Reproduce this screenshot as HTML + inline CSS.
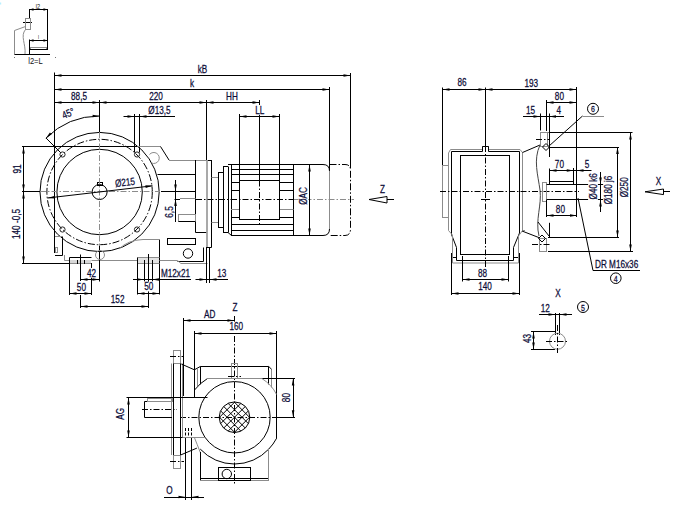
<!DOCTYPE html>
<html><head><meta charset="utf-8">
<style>
html,body{margin:0;padding:0;background:#fff;}
body{width:683px;height:513px;overflow:hidden;}
svg{display:block;}
.k{stroke:#000;stroke-width:1;fill:none;}
.g{stroke:#8c8c8c;stroke-width:1;fill:none;}
.cd{stroke:#000;stroke-width:1;fill:none;stroke-dasharray:7 2 1.5 2;}
.cg{stroke:#8c8c8c;stroke-width:1;fill:none;stroke-dasharray:6 2 1.5 2;}
.cb{stroke:#000;stroke-width:1;fill:none;stroke-dasharray:6 2 1.5 2;}
.k2{stroke:#222;stroke-width:1;fill:none;}
.tk{font-family:"Liberation Sans",sans-serif;fill:#111;}
.dsh{stroke:#000;stroke-width:1;fill:none;stroke-dasharray:3 1.5;}
.dg{stroke:#444;stroke-width:1;fill:none;}
.ah{fill:#000;stroke:none;}
.dot{fill:#444;stroke:none;}
.t{font-family:"Liberation Sans",sans-serif;fill:#0c0c38;stroke:#0c0c38;stroke-width:0.25;}
</style></head><body>
<svg width="683" height="513" viewBox="0 0 683 513">
<rect x="0" y="2.5" width="1.2" height="2" fill="#b8f0ff"/>
<line x1="29.5" y1="9" x2="29.5" y2="19" class="k"/>
<line x1="29.5" y1="9.5" x2="47.5" y2="9.5" class="k"/>
<path d="M29.50,9.50 L33.50,8.30 L33.50,10.70 Z" class="ah"/>
<path d="M47.50,9.50 L43.50,10.70 L43.50,8.30 Z" class="ah"/>
<line x1="47.5" y1="9" x2="47.5" y2="50" class="k"/>
<text transform="translate(38,9.2) scale(0.75,1)" text-anchor="middle" font-size="7.5" class="tk">l2</text>
<line x1="23" y1="22.5" x2="32" y2="22.5" class="k"/>
<rect x="25.5" y="18.5" width="5.0" height="11.0" class="g"/>
<line x1="14.5" y1="30.5" x2="25.5" y2="26.5" class="g"/>
<line x1="14.5" y1="30.5" x2="14.5" y2="54.5" class="g"/>
<line x1="14.5" y1="54.5" x2="50" y2="54.5" class="k"/>
<text transform="translate(38.5,38.8) scale(0.8,1)" text-anchor="middle" font-size="5.5" class="tk">l</text>
<line x1="29.5" y1="40.5" x2="47.5" y2="40.5" class="k"/>
<path d="M29.50,40.50 L33.50,39.30 L33.50,41.70 Z" class="ah"/>
<path d="M47.50,40.50 L43.50,41.70 L43.50,39.30 Z" class="ah"/>
<line x1="29.5" y1="39.5" x2="29.5" y2="54.5" class="k"/>
<rect x="30.5" y="47.5" width="16.0" height="2.0" class="g"/>
<line x1="29.5" y1="49.5" x2="47.5" y2="49.5" class="k"/>
<path d="M25.5,29.5 C20,36 26,44 25,54" class="g"/>
<text transform="translate(35.5,63.5) scale(0.8,1)" text-anchor="middle" font-size="9.5" class="tk">l2=L</text>
<circle cx="14.5" cy="57.5" r="0.5" class="dot"/>
<circle cx="55.5" cy="57.5" r="0.5" class="dot"/>
<line x1="54.5" y1="72.5" x2="54.5" y2="253" class="k"/>
<line x1="54.5" y1="75.5" x2="350.5" y2="75.5" class="k"/>
<path d="M54.50,75.50 L61.50,74.20 L61.50,76.80 Z" class="ah"/>
<path d="M350.50,75.50 L343.50,76.80 L343.50,74.20 Z" class="ah"/>
<rect x="196.92" y="63.73" width="11.16" height="9.77" fill="#fff"/>
<text transform="translate(202.5,72.5) scale(0.78,1)" text-anchor="middle" font-size="10.5" class="t">kB</text>
<line x1="350.5" y1="73" x2="350.5" y2="168" class="k"/>
<line x1="54.5" y1="89.5" x2="329.5" y2="89.5" class="k"/>
<path d="M54.50,89.50 L61.50,88.20 L61.50,90.80 Z" class="ah"/>
<path d="M329.50,89.50 L322.50,90.80 L322.50,88.20 Z" class="ah"/>
<rect x="189.15" y="78.03" width="5.70" height="9.77" fill="#fff"/>
<text transform="translate(192,86.8) scale(0.78,1)" text-anchor="middle" font-size="10.5" class="t">k</text>
<line x1="329.5" y1="87" x2="329.5" y2="170" class="k"/>
<line x1="54.5" y1="102.5" x2="99.5" y2="102.5" class="k"/>
<path d="M54.50,102.50 L61.50,101.20 L61.50,103.80 Z" class="ah"/>
<path d="M99.50,102.50 L92.50,103.80 L92.50,101.20 Z" class="ah"/>
<rect x="70.23" y="90.73" width="17.54" height="9.77" fill="#fff"/>
<text transform="translate(79,99.5) scale(0.78,1)" text-anchor="middle" font-size="10.5" class="t">88,5</text>
<line x1="99.5" y1="102.5" x2="206.5" y2="102.5" class="k"/>
<path d="M99.50,102.50 L106.50,101.20 L106.50,103.80 Z" class="ah"/>
<path d="M206.50,102.50 L199.50,103.80 L199.50,101.20 Z" class="ah"/>
<rect x="148.37" y="90.73" width="15.26" height="9.77" fill="#fff"/>
<text transform="translate(156,99.5) scale(0.78,1)" text-anchor="middle" font-size="10.5" class="t">220</text>
<line x1="206.5" y1="102.5" x2="259.5" y2="102.5" class="k"/>
<path d="M206.50,102.50 L213.50,101.20 L213.50,103.80 Z" class="ah"/>
<path d="M259.50,102.50 L252.50,103.80 L252.50,101.20 Z" class="ah"/>
<rect x="225.29" y="90.73" width="13.43" height="9.77" fill="#fff"/>
<text transform="translate(232,99.5) scale(0.78,1)" text-anchor="middle" font-size="10.5" class="t">HH</text>
<line x1="99.5" y1="100" x2="99.5" y2="132" class="k"/>
<line x1="206.5" y1="100" x2="206.5" y2="160" class="k"/>
<line x1="259.5" y1="100" x2="259.5" y2="180.5" class="k"/>
<line x1="239.5" y1="116.5" x2="279.5" y2="116.5" class="k"/>
<path d="M239.50,116.50 L246.50,115.20 L246.50,117.80 Z" class="ah"/>
<path d="M279.50,116.50 L272.50,117.80 L272.50,115.20 Z" class="ah"/>
<rect x="254.35" y="105.03" width="10.71" height="9.77" fill="#fff"/>
<text transform="translate(259.7,113.8) scale(0.78,1)" text-anchor="middle" font-size="10.5" class="t">LL</text>
<line x1="239.5" y1="114" x2="239.5" y2="219.5" class="k"/>
<line x1="279.5" y1="114" x2="279.5" y2="219.5" class="k"/>
<line x1="123.5" y1="116.5" x2="175" y2="116.5" class="k"/>
<path d="M134.50,116.50 L127.50,117.80 L127.50,115.20 Z" class="ah"/>
<path d="M139.50,116.50 L146.50,115.20 L146.50,117.80 Z" class="ah"/>
<rect x="147.55" y="105.53" width="23.91" height="9.77" fill="#fff"/>
<text transform="translate(159.5,114.3) scale(0.78,1)" text-anchor="middle" font-size="10.5" class="t">&#216;13,5</text>
<line x1="134.5" y1="114" x2="134.5" y2="152.5" class="k"/>
<line x1="139.5" y1="114" x2="139.5" y2="152.5" class="k"/>
<path d="M99.6,116 A76,76 0 0 0 45.86,138.26" class="k"/>
<path d="M99.60,116.00 L92.60,117.30 L92.60,114.70 Z" class="ah"/>
<path d="M45.86,138.26 L49.89,132.39 L51.73,134.23 Z" class="ah"/>
<rect transform="translate(68.1,113.1) rotate(-22)" x="-6.99" y="-4.88" width="13.98" height="9.77" fill="#fff"/>
<text transform="translate(68.1,113.1) rotate(-22) scale(0.78,1)" text-anchor="middle" font-size="10.5" class="t" y="3.78">45&#176;</text>
<line x1="46" y1="138" x2="54.5" y2="146.5" class="k"/>
<path d="M54.5,146.5 L61,153" class="k"/>
<line x1="22" y1="146.5" x2="137.5" y2="146.5" class="k"/>
<line x1="23.5" y1="146.5" x2="23.5" y2="263.5" class="k"/>
<path d="M23.50,146.50 L24.80,153.50 L22.20,153.50 Z" class="ah"/>
<path d="M23.50,191.50 L22.20,184.50 L24.80,184.50 Z" class="ah"/>
<path d="M23.50,191.50 L24.80,198.50 L22.20,198.50 Z" class="ah"/>
<path d="M23.50,263.50 L22.20,256.50 L24.80,256.50 Z" class="ah"/>
<line x1="22" y1="191.5" x2="40" y2="191.5" class="k"/>
<rect transform="translate(17,169) rotate(-90)" x="-5.35" y="-4.88" width="10.71" height="9.77" fill="#fff"/>
<text transform="translate(17,169) rotate(-90) scale(0.78,1)" text-anchor="middle" font-size="10.5" class="t" y="3.78">91</text>
<rect transform="translate(16.5,224) rotate(-90)" x="-15.82" y="-4.88" width="31.65" height="9.77" fill="#fff"/>
<text transform="translate(16.5,224) rotate(-90) scale(0.78,1)" text-anchor="middle" font-size="10.5" class="t" y="3.78">140 -0,5</text>
<line x1="22" y1="263.5" x2="69.5" y2="263.5" class="k"/>
<circle cx="99.6" cy="192" r="59.6" class="k"/>
<circle cx="99.6" cy="192" r="52.7" class="cd"/>
<circle cx="99.6" cy="192" r="42.7" class="k"/>
<circle cx="99.6" cy="192" r="7.5" class="k"/>
<rect x="97.5" y="182.5" width="5.0" height="3.0" class="k"/>
<line x1="40" y1="191.5" x2="160" y2="191.5" class="cg"/>
<line x1="99.5" y1="132" x2="99.5" y2="255" class="cg"/>
<circle cx="62.5" cy="154.5" r="2.6" class="k2"/>
<circle cx="62.5" cy="229.5" r="2.6" class="k2"/>
<circle cx="137" cy="154.5" r="2.6" class="k2"/>
<circle cx="137" cy="229.5" r="2.6" class="k2"/>
<line x1="47.5" y1="198" x2="152.5" y2="185.8" class="k"/>
<path d="M47.50,198.00 L54.30,195.90 L54.60,198.48 Z" class="ah"/>
<path d="M152.50,185.80 L145.70,187.90 L145.40,185.32 Z" class="ah"/>
<rect transform="translate(125,182) rotate(-6.6)" x="-10.82" y="-4.88" width="21.63" height="9.77" fill="#fff"/>
<text transform="translate(125,182) rotate(-6.6) scale(0.78,1)" text-anchor="middle" font-size="10.5" class="t" y="3.78">&#216;215</text>
<line x1="137.5" y1="146.5" x2="160.5" y2="146.5" class="g"/>
<line x1="160.5" y1="146.5" x2="169" y2="160" class="k"/>
<line x1="169" y1="160.5" x2="206.5" y2="160.5" class="g"/>
<line x1="206.5" y1="160.5" x2="211.5" y2="160.5" class="k"/>
<path d="M149.5,154.5 A5.5,5.5 0 1 1 151.5,163" class="g"/>
<line x1="157.5" y1="174.5" x2="195.5" y2="174.5" class="k"/>
<line x1="195.5" y1="160" x2="195.5" y2="232.5" class="k"/>
<line x1="195.5" y1="232.5" x2="207" y2="232.5" class="k"/>
<line x1="207" y1="160" x2="207" y2="247.5" class="g" style="stroke-width:1.8;stroke:#a0a0a0"/>
<line x1="211.5" y1="160" x2="211.5" y2="247.5" class="k"/>
<line x1="207" y1="247.5" x2="211.5" y2="247.5" class="k"/>
<line x1="161" y1="191.5" x2="195.5" y2="191.5" class="k"/>
<line x1="180" y1="198.5" x2="195.5" y2="198.5" class="g"/>
<line x1="174.5" y1="199.5" x2="180" y2="199.5" class="k"/>
<rect x="178.5" y="214.5" width="17.0" height="7.0" class="g"/>
<line x1="178.5" y1="221.5" x2="195.5" y2="221.5" class="k"/>
<line x1="175.5" y1="180" x2="175.5" y2="222" class="k"/>
<path d="M175.50,191.50 L174.20,184.50 L176.80,184.50 Z" class="ah"/>
<path d="M175.50,199.00 L176.80,206.00 L174.20,206.00 Z" class="ah"/>
<rect transform="translate(169.4,212) rotate(-90)" x="-6.49" y="-4.88" width="12.98" height="9.77" fill="#fff"/>
<text transform="translate(169.4,212) rotate(-90) scale(0.78,1)" text-anchor="middle" font-size="10.5" class="t" y="3.78">6,5</text>
<rect x="167.5" y="238.5" width="28.0" height="6.0" class="k"/>
<circle cx="188" cy="253.5" r="4.7" class="k"/>
<line x1="159.5" y1="239.5" x2="159.5" y2="294.5" class="k"/>
<line x1="143" y1="239.5" x2="159.5" y2="239.5" class="g"/>
<path d="M119,249 Q128,240 143,239.5" class="g"/>
<line x1="203.5" y1="247.5" x2="203.5" y2="261.5" class="k"/>
<line x1="177.5" y1="261.5" x2="203.5" y2="261.5" class="k"/>
<line x1="209.5" y1="249" x2="209.5" y2="264" class="k"/>
<line x1="64.5" y1="260.5" x2="69.5" y2="260.5" class="g"/>
<line x1="91.5" y1="260.5" x2="137.5" y2="260.5" class="g"/>
<line x1="159.5" y1="260.5" x2="177.5" y2="260.5" class="g"/>
<line x1="177.5" y1="260.5" x2="180.5" y2="263" class="g"/>
<line x1="180.5" y1="263.5" x2="207.5" y2="263.5" class="g"/>
<line x1="62.5" y1="236.5" x2="62.5" y2="255.5" class="k"/>
<line x1="55" y1="255.5" x2="62.5" y2="255.5" class="k"/>
<line x1="55" y1="236.5" x2="62.5" y2="236.5" class="g"/>
<rect x="55.5" y="247.5" width="2.0" height="5.0" class="g"/>
<line x1="64.5" y1="255" x2="64.5" y2="260.5" class="g"/>
<rect x="70" y="260" width="21" height="3" fill="#d8d8d8"/>
<line x1="69.5" y1="257.5" x2="91.5" y2="257.5" class="k"/>
<line x1="69.5" y1="263.5" x2="91.5" y2="263.5" class="g"/>
<line x1="69.5" y1="257.5" x2="69.5" y2="295" class="k"/>
<line x1="91.5" y1="263" x2="91.5" y2="295" class="k"/>
<line x1="80.5" y1="254.5" x2="80.5" y2="281" class="k"/>
<line x1="77.5" y1="260" x2="77.5" y2="264" class="k"/>
<line x1="84.5" y1="260" x2="84.5" y2="264" class="k"/>
<line x1="99.5" y1="245.5" x2="99.5" y2="281.5" class="k"/>
<circle cx="100" cy="255" r="4.5" class="g"/>
<line x1="80.5" y1="279.5" x2="99.5" y2="279.5" class="k"/>
<path d="M80.50,279.50 L87.50,278.20 L87.50,280.80 Z" class="ah"/>
<path d="M99.50,279.50 L92.50,280.80 L92.50,278.20 Z" class="ah"/>
<rect x="86.25" y="267.93" width="10.71" height="9.77" fill="#fff"/>
<text transform="translate(91.6,276.7) scale(0.78,1)" text-anchor="middle" font-size="10.5" class="t">42</text>
<line x1="69.5" y1="293.5" x2="91.5" y2="293.5" class="k"/>
<path d="M69.50,293.50 L76.50,292.20 L76.50,294.80 Z" class="ah"/>
<path d="M91.50,293.50 L84.50,294.80 L84.50,292.20 Z" class="ah"/>
<rect x="76.05" y="282.03" width="10.71" height="9.77" fill="#fff"/>
<text transform="translate(81.4,290.8) scale(0.78,1)" text-anchor="middle" font-size="10.5" class="t">50</text>
<line x1="80.5" y1="306.5" x2="148.5" y2="306.5" class="k"/>
<path d="M80.50,306.50 L87.50,305.20 L87.50,307.80 Z" class="ah"/>
<path d="M148.50,306.50 L141.50,307.80 L141.50,305.20 Z" class="ah"/>
<rect x="109.97" y="294.23" width="15.26" height="9.77" fill="#fff"/>
<text transform="translate(117.6,303) scale(0.78,1)" text-anchor="middle" font-size="10.5" class="t">152</text>
<line x1="80.5" y1="295" x2="80.5" y2="308" class="k"/>
<line x1="148.5" y1="294.5" x2="148.5" y2="308" class="k"/>
<rect x="138" y="258" width="21" height="5" fill="#e4e4e4"/>
<line x1="137.5" y1="257.5" x2="159.5" y2="257.5" class="g"/>
<line x1="137.5" y1="263.5" x2="159.5" y2="263.5" class="g"/>
<line x1="137.5" y1="257.5" x2="137.5" y2="294.5" class="k"/>
<line x1="144.5" y1="260" x2="144.5" y2="281.5" class="k"/>
<line x1="148.5" y1="254" x2="148.5" y2="308" class="k"/>
<line x1="152.5" y1="260" x2="152.5" y2="281.5" class="k"/>
<line x1="137.5" y1="293.5" x2="159.5" y2="293.5" class="k"/>
<path d="M137.50,293.50 L144.50,292.20 L144.50,294.80 Z" class="ah"/>
<path d="M159.50,293.50 L152.50,294.80 L152.50,292.20 Z" class="ah"/>
<rect x="143.35" y="281.63" width="10.71" height="9.77" fill="#fff"/>
<text transform="translate(148.7,290.4) scale(0.78,1)" text-anchor="middle" font-size="10.5" class="t">50</text>
<line x1="133" y1="279.5" x2="191" y2="279.5" class="k"/>
<path d="M144.00,279.50 L137.00,280.80 L137.00,278.20 Z" class="ah"/>
<path d="M152.00,279.50 L159.00,278.20 L159.00,280.80 Z" class="ah"/>
<rect x="160.13" y="268.03" width="30.73" height="9.77" fill="#fff"/>
<text transform="translate(175.5,276.8) scale(0.78,1)" text-anchor="middle" font-size="10.5" class="t">M12x21</text>
<line x1="195.5" y1="279.5" x2="228" y2="279.5" class="k"/>
<path d="M206.50,279.50 L199.50,280.80 L199.50,278.20 Z" class="ah"/>
<path d="M209.50,279.50 L216.50,278.20 L216.50,280.80 Z" class="ah"/>
<line x1="206.5" y1="247" x2="206.5" y2="283" class="k"/>
<line x1="209.5" y1="247" x2="209.5" y2="283" class="k"/>
<rect x="216.35" y="268.03" width="10.71" height="9.77" fill="#fff"/>
<text transform="translate(221.7,276.8) scale(0.78,1)" text-anchor="middle" font-size="10.5" class="t">13</text>
<line x1="211.5" y1="177.5" x2="218" y2="177.5" class="g"/>
<line x1="218" y1="172.5" x2="223" y2="172.5" class="k"/>
<line x1="223" y1="166.5" x2="228" y2="166.5" class="k"/>
<line x1="228" y1="164.5" x2="231" y2="164.5" class="k"/>
<line x1="218.5" y1="172.5" x2="218.5" y2="227.5" class="k"/>
<line x1="223.5" y1="166.5" x2="223.5" y2="232.5" class="k"/>
<line x1="228.5" y1="166.5" x2="228.5" y2="232.5" class="k"/>
<line x1="231.5" y1="164.5" x2="231.5" y2="235.5" class="k"/>
<line x1="211.5" y1="222.5" x2="218" y2="222.5" class="g"/>
<line x1="218" y1="227.5" x2="223" y2="227.5" class="k"/>
<line x1="223" y1="232.5" x2="228" y2="232.5" class="k"/>
<line x1="228" y1="232.5" x2="231.5" y2="235.5" class="k"/>
<path d="M231,164.5 H323 Q329.5,164.5 329.5,171" class="k"/>
<path d="M231,235.5 H323 Q329.5,235.5 329.5,229" class="k"/>
<line x1="329.5" y1="171" x2="329.5" y2="229" class="g"/>
<line x1="293.5" y1="164.5" x2="293.5" y2="235.5" class="k"/>
<line x1="231" y1="169.5" x2="293.5" y2="169.5" class="k"/>
<line x1="231" y1="174.5" x2="293.5" y2="174.5" class="k"/>
<line x1="231" y1="224.5" x2="293.5" y2="224.5" class="k"/>
<line x1="231" y1="230.5" x2="293.5" y2="230.5" class="k"/>
<line x1="231" y1="182.5" x2="239.5" y2="182.5" class="k"/>
<line x1="279.5" y1="182.5" x2="293.5" y2="182.5" class="k"/>
<line x1="231" y1="190.5" x2="239.5" y2="190.5" class="k"/>
<line x1="279.5" y1="190.5" x2="293.5" y2="190.5" class="k"/>
<line x1="231" y1="217.5" x2="239.5" y2="217.5" class="k"/>
<line x1="279.5" y1="217.5" x2="293.5" y2="217.5" class="k"/>
<line x1="231" y1="209.5" x2="239.5" y2="209.5" class="g"/>
<line x1="279.5" y1="209.5" x2="293.5" y2="209.5" class="g"/>
<rect x="239.5" y="180.5" width="40.0" height="39.0" class="k"/>
<line x1="259.5" y1="180.5" x2="259.5" y2="224.5" class="cb"/>
<line x1="196" y1="199.5" x2="231" y2="199.5" class="cb"/>
<line x1="231" y1="199.5" x2="294" y2="199.5" class="cb"/>
<line x1="294" y1="199.5" x2="354" y2="199.5" class="cg"/>
<line x1="309.5" y1="164.5" x2="309.5" y2="235.5" class="k"/>
<path d="M309.50,164.50 L310.80,171.50 L308.20,171.50 Z" class="ah"/>
<path d="M309.50,235.50 L308.20,228.50 L310.80,228.50 Z" class="ah"/>
<rect transform="translate(303.3,196) rotate(-90)" x="-9.67" y="-4.88" width="19.35" height="9.77" fill="#fff"/>
<text transform="translate(303.3,196) rotate(-90) scale(0.78,1)" text-anchor="middle" font-size="10.5" class="t" y="3.78">&#216;AC</text>
<path d="M329.5,164.5 H345 Q350.5,164.5 350.5,170 V229 Q350.5,235.5 345,235.5 H329.5" class="cd"/>
<path d="M369,199.5 L387,196.5 L387,203 Z" class="k"/>
<line x1="387" y1="199.5" x2="394" y2="199.5" class="k"/>
<rect x="379.30" y="183.73" width="6.60" height="9.77" fill="#fff"/>
<text transform="translate(382.6,192.5) scale(0.78,1)" text-anchor="middle" font-size="10.5" class="t">Z</text>
<line x1="442.5" y1="87.5" x2="442.5" y2="165.5" class="k"/>
<line x1="485.5" y1="87.5" x2="485.5" y2="146" class="k"/>
<line x1="576.5" y1="87" x2="576.5" y2="217" class="k"/>
<line x1="442.5" y1="89.5" x2="485.5" y2="89.5" class="k"/>
<path d="M442.50,89.50 L449.50,88.20 L449.50,90.80 Z" class="ah"/>
<path d="M485.50,89.50 L478.50,90.80 L478.50,88.20 Z" class="ah"/>
<rect x="456.65" y="77.53" width="10.71" height="9.77" fill="#fff"/>
<text transform="translate(462,86.3) scale(0.78,1)" text-anchor="middle" font-size="10.5" class="t">86</text>
<line x1="485.5" y1="89.5" x2="576.5" y2="89.5" class="k"/>
<path d="M485.50,89.50 L492.50,88.20 L492.50,90.80 Z" class="ah"/>
<path d="M576.50,89.50 L569.50,90.80 L569.50,88.20 Z" class="ah"/>
<rect x="523.67" y="77.73" width="15.26" height="9.77" fill="#fff"/>
<text transform="translate(531.3,86.5) scale(0.78,1)" text-anchor="middle" font-size="10.5" class="t">193</text>
<line x1="546.5" y1="102.5" x2="576.5" y2="102.5" class="k"/>
<path d="M546.50,102.50 L553.50,101.20 L553.50,103.80 Z" class="ah"/>
<path d="M576.50,102.50 L569.50,103.80 L569.50,101.20 Z" class="ah"/>
<rect x="554.05" y="91.03" width="10.71" height="9.77" fill="#fff"/>
<text transform="translate(559.4,99.8) scale(0.78,1)" text-anchor="middle" font-size="10.5" class="t">80</text>
<line x1="546.5" y1="100" x2="546.5" y2="131" class="k"/>
<line x1="523" y1="116.5" x2="564" y2="116.5" class="k"/>
<path d="M540.50,116.50 L533.50,117.80 L533.50,115.20 Z" class="ah"/>
<path d="M549.00,116.50 L556.00,115.20 L556.00,117.80 Z" class="ah"/>
<line x1="540.5" y1="113.5" x2="540.5" y2="130.5" class="k"/>
<line x1="549.5" y1="113.5" x2="549.5" y2="130.5" class="k"/>
<rect x="525.25" y="105.03" width="10.71" height="9.77" fill="#fff"/>
<text transform="translate(530.6,113.8) scale(0.78,1)" text-anchor="middle" font-size="10.5" class="t">15</text>
<rect x="555.72" y="105.03" width="6.15" height="9.77" fill="#fff"/>
<text transform="translate(558.8,113.8) scale(0.78,1)" text-anchor="middle" font-size="10.5" class="t">4</text>
<circle cx="593" cy="108.8" r="5.5" class="k"/>
<text transform="translate(593,112.3) scale(0.78,1)" text-anchor="middle" font-size="9" class="t">6</text>
<line x1="548.75" y1="146.25" x2="582.5" y2="116" class="k"/>
<line x1="582.5" y1="116.5" x2="604" y2="116.5" class="g"/>
<line x1="548.5" y1="132.5" x2="632.5" y2="132.5" class="k"/>
<line x1="548.5" y1="147.5" x2="619" y2="147.5" class="k"/>
<line x1="630.5" y1="132.5" x2="630.5" y2="251.5" class="k"/>
<path d="M630.50,132.50 L631.80,139.50 L629.20,139.50 Z" class="ah"/>
<path d="M630.50,251.50 L629.20,244.50 L631.80,244.50 Z" class="ah"/>
<line x1="617.5" y1="147" x2="617.5" y2="237.5" class="k"/>
<path d="M617.50,147.00 L618.80,154.00 L616.20,154.00 Z" class="ah"/>
<path d="M617.50,237.50 L616.20,230.50 L618.80,230.50 Z" class="ah"/>
<line x1="548" y1="237.5" x2="619" y2="237.5" class="k"/>
<line x1="548" y1="251.5" x2="633" y2="251.5" class="k"/>
<line x1="600.5" y1="172" x2="600.5" y2="212" class="k"/>
<path d="M600.50,184.50 L599.20,177.50 L601.80,177.50 Z" class="ah"/>
<path d="M600.50,199.50 L601.80,206.50 L599.20,206.50 Z" class="ah"/>
<line x1="576.5" y1="184.5" x2="605" y2="184.5" class="k"/>
<line x1="576.5" y1="199.5" x2="605" y2="199.5" class="k"/>
<rect transform="translate(593,186.3) rotate(-90)" x="-14.00" y="-4.88" width="28.00" height="9.77" fill="#fff"/>
<text transform="translate(593,186.3) rotate(-90) scale(0.78,1)" text-anchor="middle" font-size="10.5" class="t" y="3.78">&#216;40 k6</text>
<rect transform="translate(608,190) rotate(-90)" x="-15.14" y="-4.88" width="30.28" height="9.77" fill="#fff"/>
<text transform="translate(608,190) rotate(-90) scale(0.78,1)" text-anchor="middle" font-size="10.5" class="t" y="3.78">&#216;180 j6</text>
<rect transform="translate(624.3,187.3) rotate(-90)" x="-10.82" y="-4.88" width="21.63" height="9.77" fill="#fff"/>
<text transform="translate(624.3,187.3) rotate(-90) scale(0.78,1)" text-anchor="middle" font-size="10.5" class="t" y="3.78">&#216;250</text>
<path d="M645,191.8 L663.5,189 L663.5,194.6 Z" class="k"/>
<line x1="663.5" y1="191.5" x2="670" y2="191.5" class="k"/>
<rect x="654.87" y="176.23" width="7.06" height="9.77" fill="#fff"/>
<text transform="translate(658.4,185) scale(0.78,1)" text-anchor="middle" font-size="10.5" class="t">X</text>
<rect x="442.5" y="165.5" width="6.0" height="52.0" class="g"/>
<path d="M448.5,165.5 V153 L450.5,149.5 H482.5 V146.5 H488.5 V149.5 H520 L522.5,152.5 V230.5 H525" class="g"/>
<path d="M451.5,234.5 V151.5 H482.5 V146.5 H488.5 V151.5 H519.5 V233 L513.5,247.5 V260.5 H456.5 V247.5 L451.5,234.5" class="k"/>
<line x1="513.5" y1="257.5" x2="519.5" y2="257.5" class="k"/>
<line x1="451.5" y1="257.5" x2="456.5" y2="257.5" class="k"/>
<path d="M448.5,217.5 V230.5 L452.5,235 V263 H518.5 V236 L522.5,230.5" class="g"/>
<rect x="460.5" y="155.5" width="49.0" height="99.0" class="k"/>
<line x1="485.5" y1="146" x2="485.5" y2="267" class="cb"/>
<line x1="440" y1="191.5" x2="579" y2="191.5" class="cb"/>
<line x1="481" y1="199.5" x2="490" y2="199.5" class="k"/>
<line x1="462.5" y1="279.5" x2="508.5" y2="279.5" class="k"/>
<path d="M462.50,279.50 L469.50,278.20 L469.50,280.80 Z" class="ah"/>
<path d="M508.50,279.50 L501.50,280.80 L501.50,278.20 Z" class="ah"/>
<line x1="462.5" y1="256" x2="462.5" y2="281.5" class="k"/>
<line x1="508.5" y1="256" x2="508.5" y2="281.5" class="k"/>
<rect x="477.15" y="268.23" width="10.71" height="9.77" fill="#fff"/>
<text transform="translate(482.5,277) scale(0.78,1)" text-anchor="middle" font-size="10.5" class="t">88</text>
<line x1="451.5" y1="293.5" x2="519.5" y2="293.5" class="k"/>
<path d="M451.50,293.50 L458.50,292.20 L458.50,294.80 Z" class="ah"/>
<path d="M519.50,293.50 L512.50,294.80 L512.50,292.20 Z" class="ah"/>
<line x1="451.5" y1="253" x2="451.5" y2="295" class="k"/>
<line x1="519.5" y1="253" x2="519.5" y2="295" class="k"/>
<rect x="477.37" y="281.03" width="15.26" height="9.77" fill="#fff"/>
<text transform="translate(485,289.8) scale(0.78,1)" text-anchor="middle" font-size="10.5" class="t">140</text>
<line x1="522.5" y1="152.5" x2="540" y2="145" class="k"/>
<rect x="540.5" y="132.5" width="7.0" height="14.0" class="g"/>
<path d="M542.5,147 L546,143.5 L549.5,147 L546,150.5 Z" class="k"/>
<line x1="549.5" y1="130" x2="549.5" y2="157" class="k"/>
<line x1="536" y1="139.5" x2="550" y2="139.5" class="cb"/>
<path d="M540,145 C533,160 538,175 540,190 C542,205 535,220 539,236" class="dg"/>
<rect x="542.5" y="182.5" width="4.0" height="19.0" class="g"/>
<line x1="546.5" y1="184.5" x2="576.5" y2="184.5" class="k"/>
<line x1="546.5" y1="199.5" x2="576.5" y2="199.5" class="k"/>
<rect x="549.5" y="181.5" width="24.0" height="3.0" class="k"/>
<line x1="549.5" y1="170.5" x2="573.75" y2="170.5" class="k"/>
<path d="M549.50,170.50 L556.50,169.20 L556.50,171.80 Z" class="ah"/>
<path d="M573.75,170.50 L566.75,171.80 L566.75,169.20 Z" class="ah"/>
<line x1="549.5" y1="168.5" x2="549.5" y2="181.5" class="k"/>
<line x1="573.5" y1="168" x2="573.5" y2="181.5" class="k"/>
<rect x="554.05" y="158.73" width="10.71" height="9.77" fill="#fff"/>
<text transform="translate(559.4,167.5) scale(0.78,1)" text-anchor="middle" font-size="10.5" class="t">70</text>
<line x1="573.75" y1="170.5" x2="591.5" y2="170.5" class="k"/>
<path d="M576.50,170.50 L583.50,169.20 L583.50,171.80 Z" class="ah"/>
<rect x="583.82" y="158.73" width="6.15" height="9.77" fill="#fff"/>
<text transform="translate(586.9,167.5) scale(0.78,1)" text-anchor="middle" font-size="10.5" class="t">5</text>
<line x1="546.5" y1="215.5" x2="577" y2="215.5" class="k"/>
<path d="M546.50,215.50 L553.50,214.20 L553.50,216.80 Z" class="ah"/>
<path d="M577.00,215.50 L570.00,216.80 L570.00,214.20 Z" class="ah"/>
<line x1="546.5" y1="200" x2="546.5" y2="217" class="k"/>
<rect x="555.05" y="203.93" width="10.71" height="9.77" fill="#fff"/>
<text transform="translate(560.4,212.7) scale(0.78,1)" text-anchor="middle" font-size="10.5" class="t">80</text>
<rect x="539.5" y="238.5" width="7.0" height="13.0" class="g"/>
<path d="M538.5,238.5 L542,235 L545.5,238.5 L542,242 Z" class="k"/>
<line x1="532" y1="244.5" x2="550" y2="244.5" class="cb"/>
<line x1="549.5" y1="222.8" x2="549.5" y2="237" class="k"/>
<line x1="522" y1="231" x2="540" y2="238" class="k"/>
<line x1="538" y1="222" x2="549" y2="236" class="k"/>
<line x1="578" y1="198" x2="593" y2="270.5" class="k"/>
<line x1="593" y1="270.5" x2="640" y2="270.5" class="k"/>
<rect x="594.18" y="258.93" width="44.84" height="9.77" fill="#fff"/>
<text transform="translate(616.6,267.7) scale(0.78,1)" text-anchor="middle" font-size="10.5" class="t">DR M16x36</text>
<circle cx="615.8" cy="278.2" r="5.3" class="k"/>
<text transform="translate(615.8,281.7) scale(0.78,1)" text-anchor="middle" font-size="9" class="t">4</text>
<rect x="554.47" y="288.23" width="7.06" height="9.77" fill="#fff"/>
<text transform="translate(558,297) scale(0.78,1)" text-anchor="middle" font-size="10.5" class="t">X</text>
<rect x="539.95" y="303.23" width="10.71" height="9.77" fill="#fff"/>
<text transform="translate(545.3,312) scale(0.78,1)" text-anchor="middle" font-size="10.5" class="t">12</text>
<line x1="539" y1="314.5" x2="572" y2="314.5" class="k"/>
<path d="M555.50,314.50 L548.50,315.80 L548.50,313.20 Z" class="ah"/>
<path d="M559.50,314.50 L566.50,313.20 L566.50,315.80 Z" class="ah"/>
<line x1="555.5" y1="313" x2="555.5" y2="335" class="k"/>
<line x1="559.5" y1="313" x2="559.5" y2="335" class="k"/>
<circle cx="583" cy="307" r="5.5" class="k"/>
<text transform="translate(583,310.5) scale(0.78,1)" text-anchor="middle" font-size="9" class="t">5</text>
<line x1="531" y1="331.5" x2="555" y2="331.5" class="k"/>
<line x1="531" y1="349.5" x2="555" y2="349.5" class="k"/>
<line x1="533.5" y1="331.5" x2="533.5" y2="349.5" class="k"/>
<path d="M533.50,331.50 L534.80,338.50 L532.20,338.50 Z" class="ah"/>
<path d="M533.50,349.50 L532.20,342.50 L534.80,342.50 Z" class="ah"/>
<rect transform="translate(527,338.5) rotate(-90)" x="-5.35" y="-4.88" width="10.71" height="9.77" fill="#fff"/>
<text transform="translate(527,338.5) rotate(-90) scale(0.78,1)" text-anchor="middle" font-size="10.5" class="t" y="3.78">43</text>
<circle cx="557.5" cy="341.25" r="8" class="g"/>
<line x1="546" y1="341.5" x2="569" y2="341.5" class="cb"/>
<line x1="557.5" y1="325" x2="557.5" y2="353" class="cb"/>
<rect x="231.70" y="301.83" width="6.60" height="9.77" fill="#fff"/>
<text transform="translate(235,310.6) scale(0.78,1)" text-anchor="middle" font-size="10.5" class="t">Z</text>
<line x1="183.5" y1="320.5" x2="234.5" y2="320.5" class="k"/>
<path d="M183.50,320.50 L190.50,319.20 L190.50,321.80 Z" class="ah"/>
<path d="M234.50,320.50 L227.50,321.80 L227.50,319.20 Z" class="ah"/>
<rect x="203.11" y="309.03" width="12.98" height="9.77" fill="#fff"/>
<text transform="translate(209.6,317.8) scale(0.78,1)" text-anchor="middle" font-size="10.5" class="t">AD</text>
<line x1="183.5" y1="318" x2="183.5" y2="396" class="k"/>
<line x1="234.5" y1="316" x2="234.5" y2="324" class="k"/>
<line x1="194.5" y1="333.5" x2="276.5" y2="333.5" class="k"/>
<path d="M194.50,333.50 L201.50,332.20 L201.50,334.80 Z" class="ah"/>
<path d="M276.50,333.50 L269.50,334.80 L269.50,332.20 Z" class="ah"/>
<rect x="228.67" y="321.63" width="15.26" height="9.77" fill="#fff"/>
<text transform="translate(236.3,330.4) scale(0.78,1)" text-anchor="middle" font-size="10.5" class="t">160</text>
<line x1="194.5" y1="331" x2="194.5" y2="397.5" class="k"/>
<line x1="276.5" y1="331" x2="276.5" y2="438.75" class="k"/>
<line x1="234.5" y1="336" x2="234.5" y2="485" class="cb"/>
<rect x="173.5" y="350.5" width="7.0" height="13.0" class="g"/>
<line x1="170" y1="356.5" x2="183.5" y2="356.5" class="cb"/>
<line x1="171.5" y1="363.5" x2="171.5" y2="455" class="g"/>
<line x1="173.5" y1="363.5" x2="173.5" y2="455" class="k"/>
<line x1="180.5" y1="363.5" x2="180.5" y2="455" class="k"/>
<line x1="182.5" y1="363.5" x2="182.5" y2="437.5" class="g"/>
<rect x="173.5" y="455.5" width="7.0" height="13.0" class="g"/>
<line x1="170" y1="461.5" x2="184" y2="461.5" class="cb"/>
<line x1="181.3" y1="364" x2="194.4" y2="369.8" class="k"/>
<line x1="194.4" y1="369.8" x2="200.3" y2="366.5" class="k"/>
<path d="M200.3,366.5 H268.75 L271.9,369.6" class="k"/>
<line x1="268.5" y1="366.5" x2="268.5" y2="384.4" class="k"/>
<line x1="271.5" y1="369.6" x2="271.5" y2="387.5" class="g"/>
<line x1="200.5" y1="366.5" x2="200.5" y2="384.4" class="k"/>
<line x1="197.5" y1="369" x2="197.5" y2="386" class="g"/>
<path d="M194.5,390 Q200,383 207.5,378.5" class="k"/>
<line x1="207.5" y1="378.5" x2="262" y2="378.5" class="g"/>
<line x1="262" y1="378.5" x2="295" y2="378.5" class="k"/>
<path d="M293.10,378.50 L294.40,385.50 L291.80,385.50 Z" class="ah"/>
<line x1="293.5" y1="378.5" x2="293.5" y2="417.25" class="k"/>
<path d="M293.10,417.25 L291.80,410.25 L294.40,410.25 Z" class="ah"/>
<path d="M261.9,378.5 Q272,385 276.5,394.4" class="g"/>
<rect x="231.5" y="363.5" width="6.0" height="15.0" class="g"/>
<line x1="228" y1="376.5" x2="241" y2="376.5" class="cb"/>
<circle cx="234.5" cy="417.25" r="35.7" class="k"/>
<clipPath id="hc"><circle cx="234.5" cy="417.25" r="15.3"/></clipPath>
<path d="M184.5,397.25 l40,40 M224.5,397.25 l-40,40 M192.0,397.25 l40,40 M232.0,397.25 l-40,40 M199.5,397.25 l40,40 M239.5,397.25 l-40,40 M207.0,397.25 l40,40 M247.0,397.25 l-40,40 M214.5,397.25 l40,40 M254.5,397.25 l-40,40 M222.0,397.25 l40,40 M262.0,397.25 l-40,40 M229.5,397.25 l40,40 M269.5,397.25 l-40,40 M237.0,397.25 l40,40 M277.0,397.25 l-40,40 M244.5,397.25 l40,40 M284.5,397.25 l-40,40" class="k" clip-path="url(#hc)"/>
<circle cx="234.5" cy="417.25" r="15.3" class="k"/>
<path d="M276.5,438.4 A46.75,46.75 0 0 1 268.75,449.1" class="k"/>
<path d="M200.25,449.1 A46.75,46.75 0 0 0 268.75,449.1" class="k"/>
<line x1="180" y1="417.5" x2="276" y2="417.5" class="cb"/>
<line x1="276.5" y1="417.5" x2="295" y2="417.5" class="k"/>
<rect transform="translate(286.3,397.6) rotate(-90)" x="-5.35" y="-4.88" width="10.71" height="9.77" fill="#fff"/>
<text transform="translate(286.3,397.6) rotate(-90) scale(0.78,1)" text-anchor="middle" font-size="10.5" class="t" y="3.78">80</text>
<path d="M204.5,437.5 H182.5 V397.5" class="g"/>
<line x1="126.5" y1="397.5" x2="207.5" y2="397.5" class="k"/>
<line x1="126.5" y1="437.5" x2="182.5" y2="437.5" class="k"/>
<line x1="128.5" y1="397.5" x2="128.5" y2="437.5" class="k"/>
<path d="M128.50,397.50 L129.80,404.50 L127.20,404.50 Z" class="ah"/>
<path d="M128.50,437.50 L127.20,430.50 L129.80,430.50 Z" class="ah"/>
<rect transform="translate(120.6,413.8) rotate(-90)" x="-6.72" y="-4.88" width="13.43" height="9.77" fill="#fff"/>
<text transform="translate(120.6,413.8) rotate(-90) scale(0.78,1)" text-anchor="middle" font-size="10.5" class="t" y="3.78">AG</text>
<path d="M172,401.5 H144.5 V417.5 H172" class="k"/>
<line x1="185.5" y1="428" x2="185.5" y2="437" class="dsh"/>
<line x1="188.5" y1="428" x2="188.5" y2="437" class="dsh"/>
<line x1="191.5" y1="428" x2="191.5" y2="437" class="dsh"/>
<rect x="147.5" y="398.5" width="25.0" height="3.0" class="g"/>
<line x1="142" y1="409.5" x2="177" y2="409.5" class="cb"/>
<line x1="180.6" y1="455" x2="196.9" y2="448.1" class="k"/>
<path d="M194.4,437.5 Q197,444 200.3,452.5" class="g"/>
<line x1="200.5" y1="452" x2="200.5" y2="480.5" class="k"/>
<line x1="200.3" y1="478.5" x2="269" y2="478.5" class="k"/>
<line x1="200.3" y1="480.5" x2="269" y2="480.5" class="g"/>
<line x1="268.5" y1="449" x2="268.5" y2="480.5" class="g"/>
<rect x="218.5" y="467.5" width="32.0" height="13.0" class="k"/>
<circle cx="226.8" cy="474" r="4.7" class="k"/>
<line x1="185.5" y1="438" x2="185.5" y2="500" class="k"/>
<line x1="191.5" y1="438" x2="191.5" y2="500" class="k"/>
<line x1="164" y1="497.5" x2="204" y2="497.5" class="k"/>
<path d="M185.50,497.00 L178.50,498.30 L178.50,495.70 Z" class="ah"/>
<path d="M191.50,497.00 L198.50,495.70 L198.50,498.30 Z" class="ah"/>
<rect x="165.51" y="485.53" width="7.97" height="9.77" fill="#fff"/>
<text transform="translate(169.5,494.3) scale(0.78,1)" text-anchor="middle" font-size="10.5" class="t">O</text>
</svg>
</body></html>
